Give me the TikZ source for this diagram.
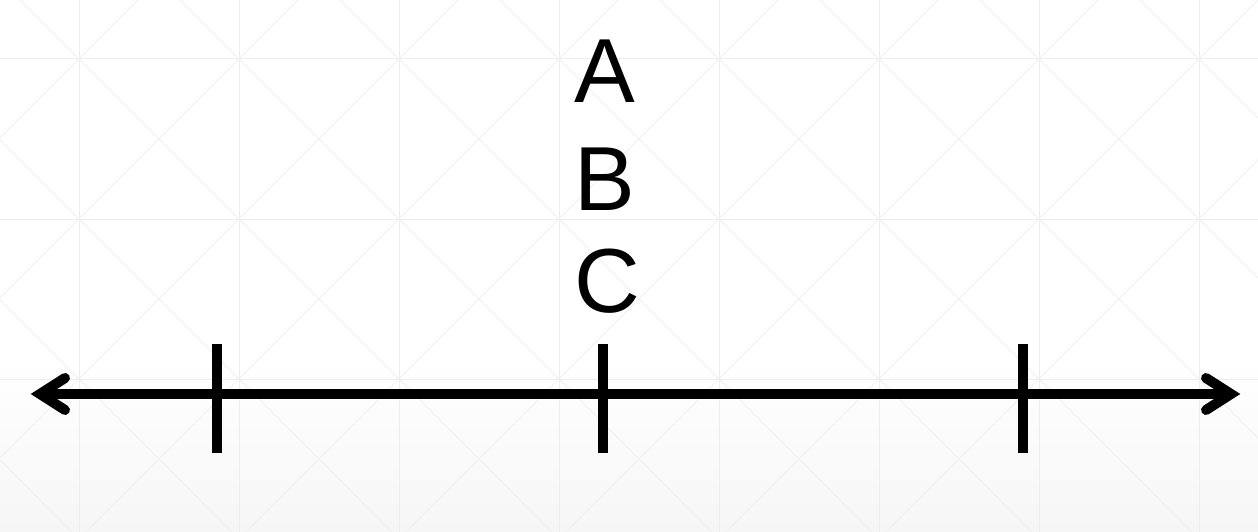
\documentclass[tikz,border=0pt]{standalone}
\usepackage{fontspec}
\setmainfont{Liberation Sans}
\definecolor{gridc}{HTML}{EDEDED}
\definecolor{diagc}{HTML}{F0F0F0}
\definecolor{bgbot}{HTML}{F6F6F6}
\tikzset{
  gridline/.style={draw=gridc, line width=1pt},
  diagline/.style={draw=diagc, line width=1pt},
  axis/.style={line width=10pt, black},
  barb/.style={line width=10pt, black, line cap=round, line join=miter},
  tick/.style={line width=10pt, black},
  lbl/.style={font=\fontsize{91}{91}\selectfont, anchor=base, inner sep=0pt}
}
\begin{document}
\begin{tikzpicture}[x=1pt,y=-1pt]
\useasboundingbox (0,0) rectangle (1258,532);
\fill[white] (0,0) rectangle (1258,532);
\shade[top color=white, bottom color=bgbot] (0,360) rectangle (1258,532);
\begin{scope}
\clip (0,0) rectangle (1258,532);
\foreach \x in {79,239,...,1199} \draw[gridline] (\x,0) -- (\x,532);
\foreach \y in {59,219,379} \draw[gridline] (0,\y) -- (1258,\y);
\foreach \k in {-4,...,8} {
  \draw[diagline] ({20+160*\k-600},-600) -- ({20+160*\k+1200},1200);
  \draw[diagline] ({138+160*\k+600},-600) -- ({138+160*\k-1200},1200);
}
\end{scope}
% axis
\coordinate (L) at (40,394);
\coordinate (R) at (1231,394);
\draw[axis] (L) -- (R);
\draw[barb] ([shift={(25,-16)}]L) -- (L) -- ([shift={(25,16)}]L);
\draw[barb] ([shift={(-25,-16)}]R) -- (R) -- ([shift={(-25,16)}]R);
% ticks
\coordinate (t1) at (217,394);
\coordinate (t2) at (603,394);
\coordinate (t3) at (1023,394);
\foreach \t in {t1,t2,t3}
  \draw[tick] ([yshift=50]\t) -- ([yshift=-59]\t);
% labels
\node[lbl] (A) at (605,103) {A};
\node[lbl] (B) at (605,210) {B};
\node[lbl] (C) at (607,312) {C};
\end{tikzpicture}
\end{document}
